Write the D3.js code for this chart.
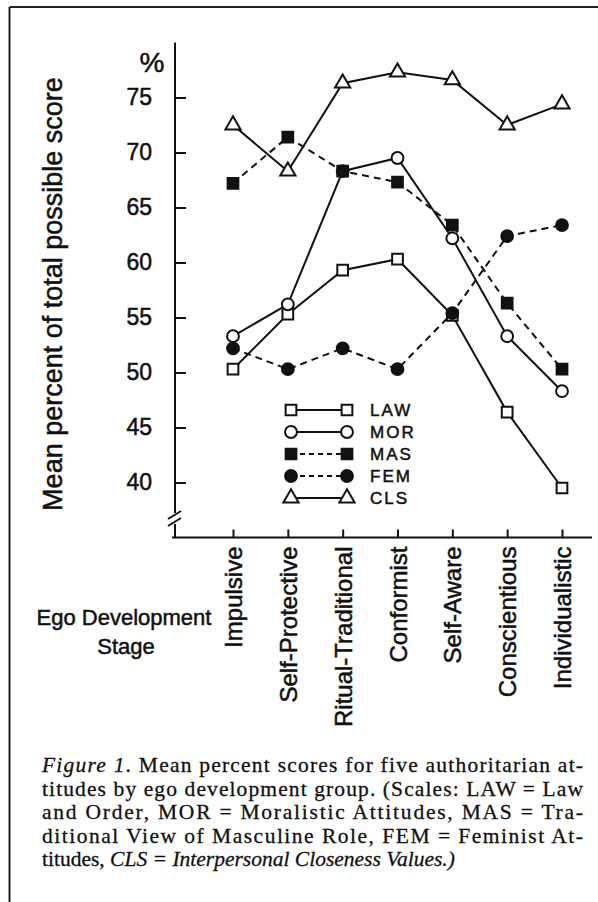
<!DOCTYPE html>
<html>
<head>
<meta charset="utf-8">
<script src="https://d3js.org/d3.v7.min.js"></script>
<style>
  body { margin: 0; background: #fff; }
  svg { display: block; }
  .sans { font-family: "Liberation Sans", Arial, sans-serif; fill: #111; stroke: #111; stroke-width: 0.5px; }
  .serif { font-family: "Liberation Serif", "Times New Roman", serif; fill: #111; stroke: #111; stroke-width: 0.3px; }
</style>
</head>
<body>
<svg width="598" height="902"></svg>
<script>
// data
const stages = ["Impulsive", "Self-Protective", "Ritual-Traditional", "Conformist",
                "Self-Aware", "Conscientious", "Individualistic"];
const law = [50.3, 55.3, 59.3, 60.3, 55.2, 46.4, 39.5];
const mor = [53.3, 56.2, 68.3, 69.5, 62.2, 53.3, 48.3];
const mas = [67.2, 71.4, 68.3, 67.3, 63.4, 56.3, 50.3];
const fem = [52.2, 50.3, 52.2, 50.3, 55.4, 62.4, 63.4];
const cls = [72.5, 68.3, 76.3, 77.3, 76.6, 72.5, 74.4];
const yTicks = [40, 45, 50, 55, 60, 65, 70, 75];
const seriesNames = ["LAW", "MOR", "MAS", "FEM", "CLS"];

const captionLines = [
  [["Figure 1", true], [". Mean percent scores for five authoritarian at-", false]],
  [["titudes by ego development group. (Scales: LAW = Law", false]],
  [["and Order, MOR = Moralistic Attitudes, MAS = Tra-", false]],
  [["ditional View of Masculine Role, FEM = Feminist At-", false]],
  [["titudes, ", false], ["CLS = Interpersonal Closeness Values.)", true]]
];

const series = [
  {name: seriesNames[0], values: law, shape: d3.symbolSquare, filled: false, dashed: false},
  {name: seriesNames[1], values: mor, shape: d3.symbolCircle, filled: false, dashed: false},
  {name: seriesNames[2], values: mas, shape: d3.symbolSquare, filled: true, dashed: true},
  {name: seriesNames[3], values: fem, shape: d3.symbolCircle, filled: true, dashed: true},
  {name: seriesNames[4], values: cls, shape: d3.symbolTriangle, filled: false, dashed: false}
];

const svg = d3.select("svg");

// page frame (scan border)
svg.append("line").attr("x1", 9.5).attr("y1", 7).attr("x2", 598).attr("y2", 7)
   .attr("stroke", "#222").attr("stroke-width", 2);
svg.append("line").attr("x1", 9.5).attr("y1", 7).attr("x2", 9.5).attr("y2", 902)
   .attr("stroke", "#222").attr("stroke-width", 2);

const x = d3.scalePoint().domain(stages).range([233, 562]);
const y = d3.scaleLinear().domain([35, 80]).range([537.5, 42.5]);
const axisX = 175;

function marker(shape) {
  const size = shape === d3.symbolSquare ? 115 : shape === d3.symbolCircle ? 110 : 100;
  return d3.symbol().type(shape).size(size)();
}

// y axis: line with break, inward ticks
const gy = svg.append("g").attr("transform", "translate(" + axisX + ",0)");
gy.call(d3.axisLeft(y).tickValues(yTicks).tickSize(-11).tickPadding(23).tickFormat(d3.format("d")));
gy.select(".domain").remove();
gy.selectAll(".tick line").attr("stroke", "#111").attr("stroke-width", 2);
gy.selectAll(".tick text").attr("class", "sans").attr("font-size", 23);
gy.append("line").attr("x1", 0).attr("x2", 0).attr("y1", y(80)).attr("y2", 513)
  .attr("stroke", "#111").attr("stroke-width", 2);
gy.append("line").attr("x1", 0).attr("x2", 0).attr("y1", 524).attr("y2", y(35))
  .attr("stroke", "#111").attr("stroke-width", 2);
[513, 520].forEach(function(b) {
  gy.append("line").attr("x1", -7).attr("y1", b + 6).attr("x2", 6).attr("y2", b - 2)
    .attr("stroke", "#111").attr("stroke-width", 2);
});

svg.append("text").attr("class", "sans").attr("x", 152).attr("y", 72)
   .attr("text-anchor", "middle").attr("font-size", 28).text("%");

svg.append("text").attr("class", "sans")
   .attr("transform", "translate(62,294) rotate(-90)")
   .attr("text-anchor", "middle").attr("font-size", 27)
   .text("Mean percent of total possible score");

// x axis
const gx = svg.append("g").attr("transform", "translate(0," + y(35) + ")");
gx.call(d3.axisBottom(x).tickSize(-8).tickPadding(0));
gx.select(".domain").remove();
gx.append("line").attr("x1", 172).attr("x2", 592).attr("y1", 0).attr("y2", 0)
  .attr("stroke", "#111").attr("stroke-width", 2);
gx.selectAll(".tick line").attr("stroke", "#111").attr("stroke-width", 2);
gx.selectAll(".tick text")
  .attr("class", "sans").attr("font-size", 24)
  .attr("text-anchor", "end")
  .attr("transform", "rotate(-90)")
  .attr("x", -9).attr("y", 0).attr("dy", "0.36em");

svg.append("text").attr("class", "sans").attr("x", 124).attr("y", 625)
   .attr("text-anchor", "middle").attr("font-size", 22).text("Ego Development");
svg.append("text").attr("class", "sans").attr("x", 126).attr("y", 654)
   .attr("text-anchor", "middle").attr("font-size", 22).text("Stage");

// series lines and markers
const line = d3.line().x((d, i) => x(stages[i])).y(d => y(d));
series.forEach(function(s) {
  svg.append("path").datum(s.values)
     .attr("d", line)
     .attr("fill", "none").attr("stroke", "#111").attr("stroke-width", 2)
     .attr("stroke-dasharray", s.dashed ? "7,5" : null);
});
series.forEach(function(s) {
  svg.selectAll(null).data(s.values).enter().append("path")
     .attr("transform", (d, i) => "translate(" + x(stages[i]) + "," + y(d) + ")")
     .attr("d", marker(s.shape))
     .attr("fill", s.filled ? "#111" : "#fff")
     .attr("stroke", "#111").attr("stroke-width", 2);
});

// legend
const legend = svg.append("g").attr("transform", "translate(291,410)");
const rows = legend.selectAll("g").data(series).enter().append("g")
  .attr("transform", (d, i) => "translate(0," + (i * 22) + ")");
rows.append("line").attr("x1", 0).attr("x2", 56).attr("y1", 0).attr("y2", 0)
  .attr("stroke", "#111").attr("stroke-width", 2)
  .attr("stroke-dasharray", d => d.dashed ? "5,4" : null);
[0, 56].forEach(function(px) {
  rows.append("path").attr("transform", "translate(" + px + ",0)")
    .attr("d", d => marker(d.shape))
    .attr("fill", d => d.filled ? "#111" : "#fff")
    .attr("stroke", "#111").attr("stroke-width", 2);
});
rows.append("text").attr("class", "sans").attr("x", 79).attr("dy", "0.36em")
  .attr("font-size", 17).attr("letter-spacing", 2).text(d => d.name);

// caption
const cap = svg.append("g").attr("class", "serif");
captionLines.forEach(function(parts, i) {
  const t = cap.append("text").attr("x", 42).attr("y", 772 + i * 23.5).attr("font-size", 21.5);
  if (i < captionLines.length - 1) t.attr("textLength", 541).attr("lengthAdjust", "spacing");
  parts.forEach(function(p) {
    t.append("tspan").attr("font-style", p[1] ? "italic" : null).text(p[0]);
  });
});
</script>
</body>
</html>
